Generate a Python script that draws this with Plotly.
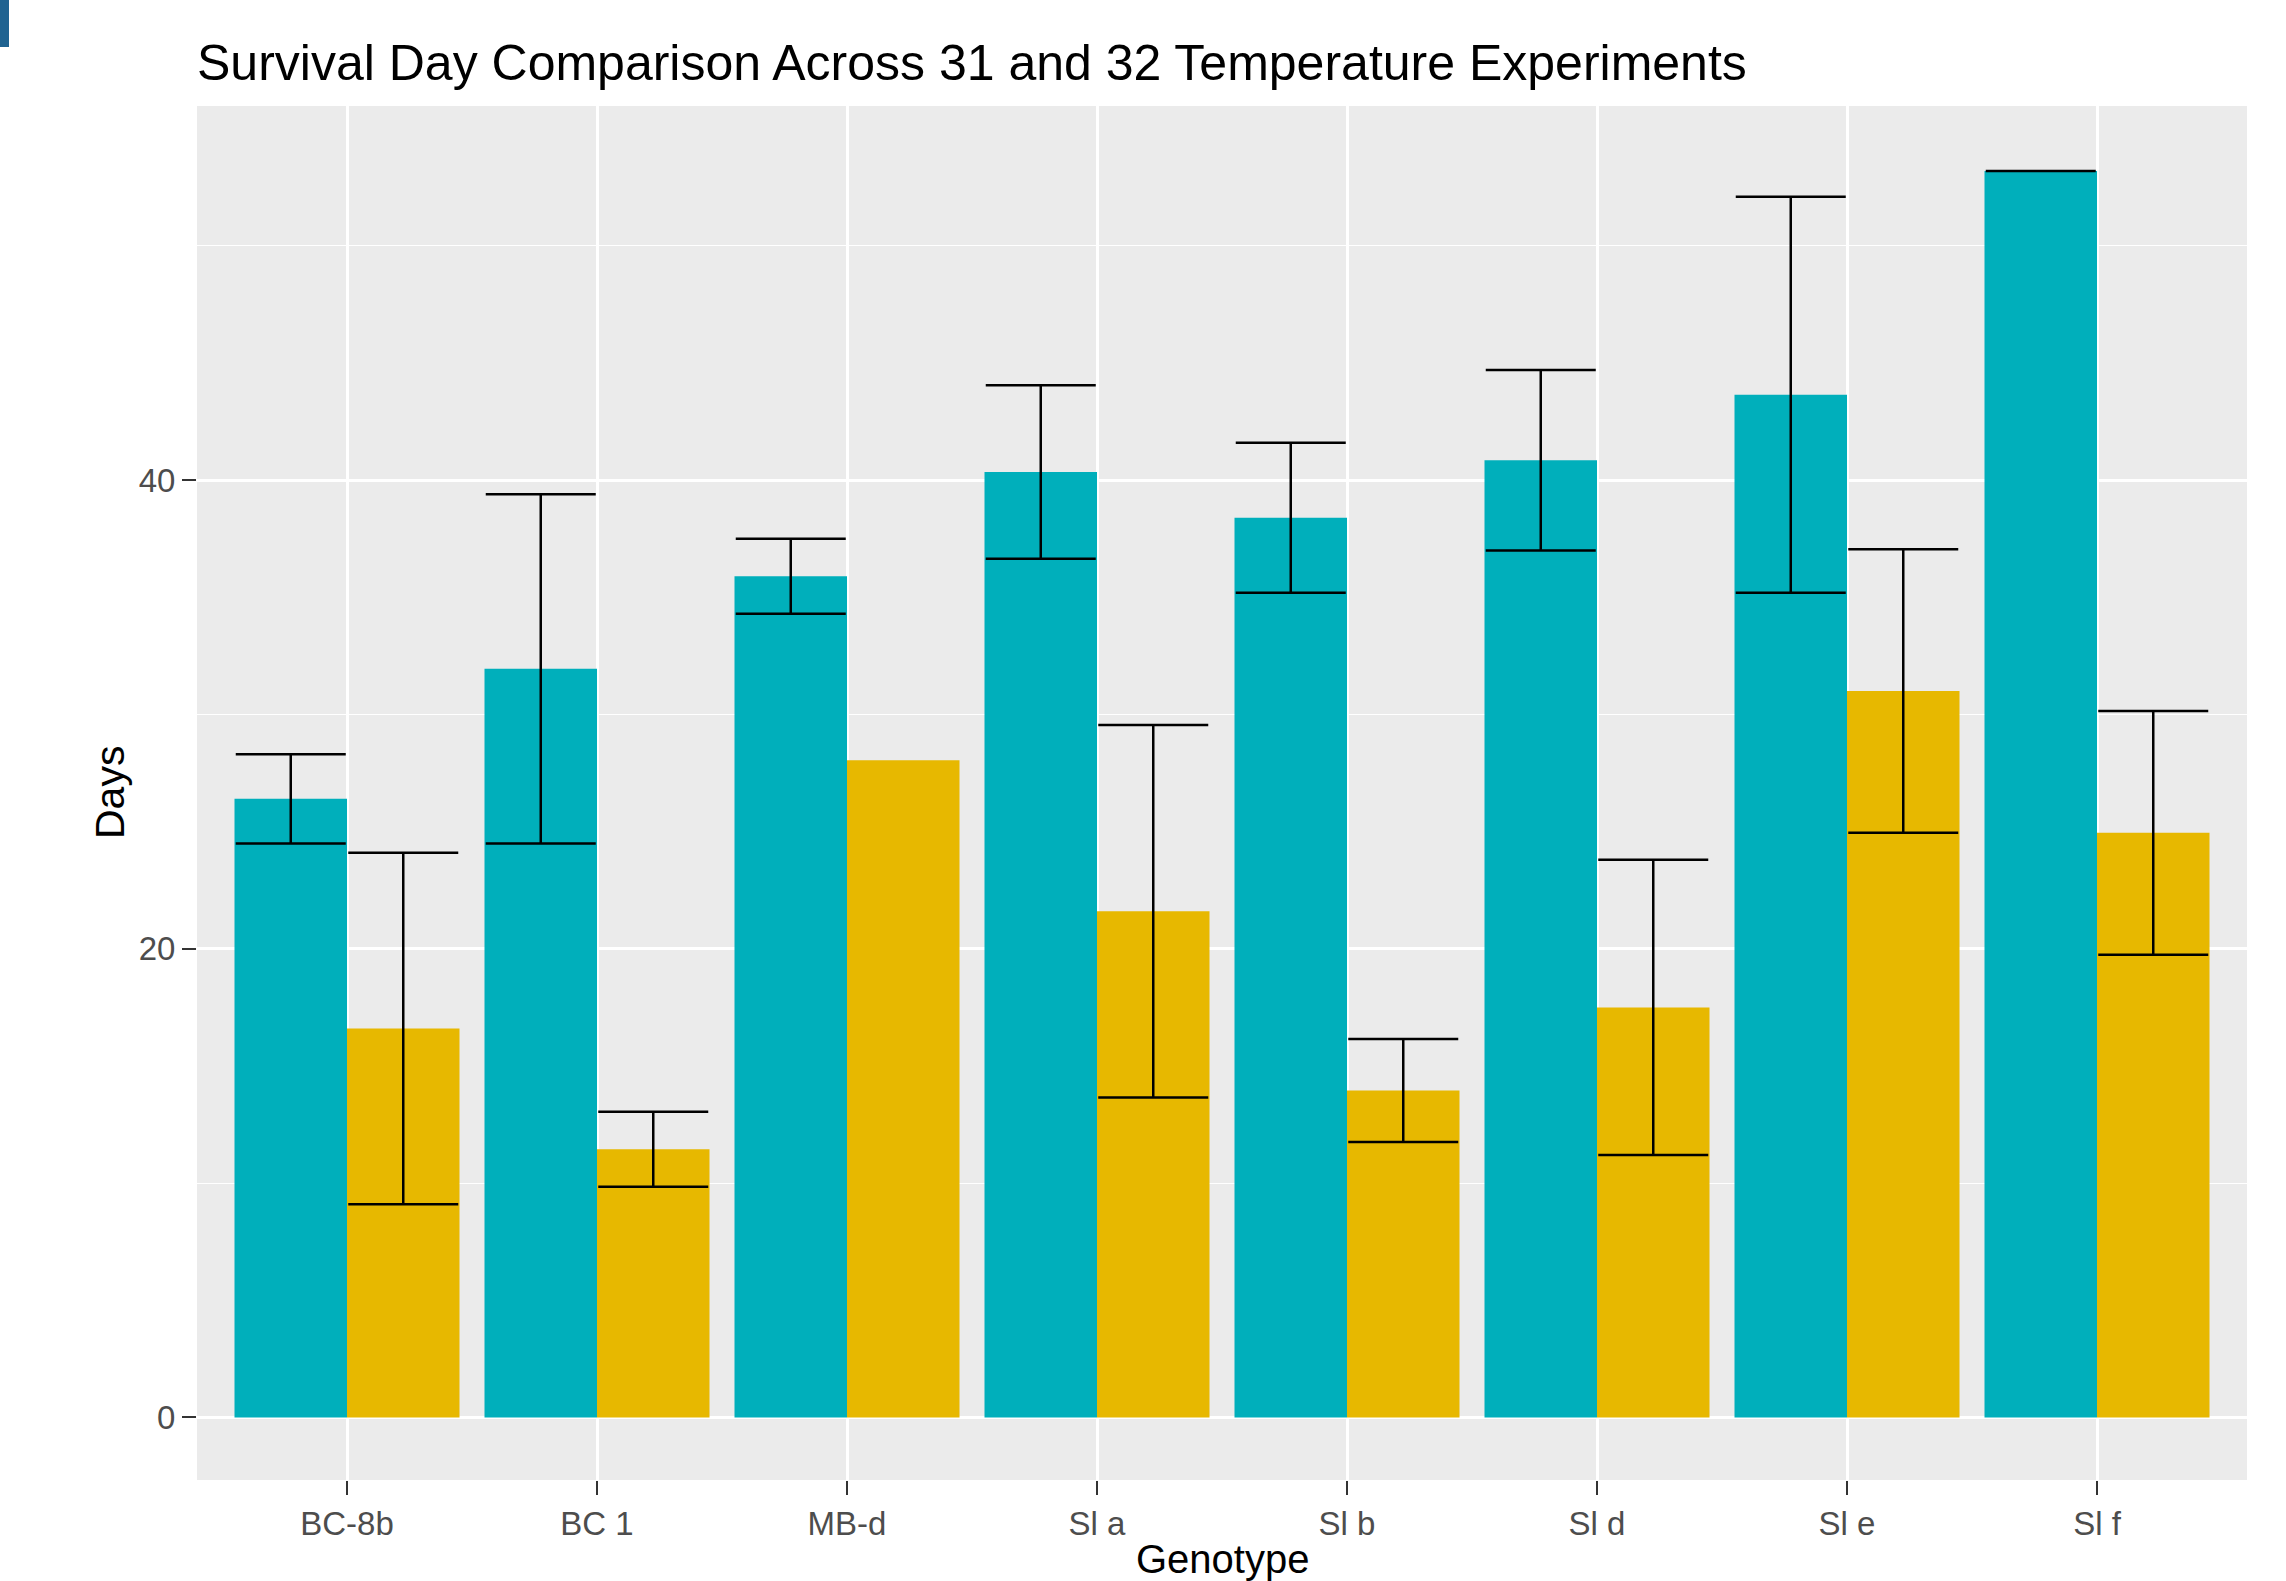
import plotly.graph_objects as go

genotypes = ["BC-8b", "BC 1", "MB-d", "Sl a", "Sl b", "Sl d", "Sl e", "Sl f"]
days_31 = [26.4, 31.95, 35.9, 40.35, 38.4, 40.85, 43.65, 53.2]
err_31 = [1.9, 7.45, 1.6, 3.7, 3.2, 3.85, 8.45, 0.0]
days_32 = [16.6, 11.45, 28.05, 21.6, 13.95, 17.5, 31.0, 24.95]
err_32 = [7.5, 1.6, None, 7.95, 2.2, 6.3, 6.05, 5.2]

TEAL = "#00AFBB"
GOLD = "#E7B800"
FONT = "Liberation Sans, Arial, sans-serif"

W, H = 2286, 1581
ML, MR, MT, MB = 197, 39, 106, 101
PW, PH = W - ML - MR, H - MT - MB


def err_array(vals):
    # missing error -> non-numeric so plotly.js skips the bar entirely
    return ["NaN" if v is None else v for v in vals]


fig = go.Figure()
fig.add_trace(go.Bar(
    x=genotypes, y=days_31, name="31", marker=dict(color=TEAL, line=dict(width=0)),
    error_y=dict(type="data", array=err_array(err_31), visible=True, color="black", thickness=2.5, width=55),
    showlegend=False,
))
fig.add_trace(go.Bar(
    x=genotypes, y=days_32, name="32", marker=dict(color=GOLD, line=dict(width=0)),
    error_y=dict(type="data", array=err_array(err_32), visible=True, color="black", thickness=2.5, width=55),
    showlegend=False,
))

fig.update_layout(
    width=W, height=H,
    margin=dict(l=ML, r=MR, t=MT, b=MB, autoexpand=False),
    paper_bgcolor="white",
    plot_bgcolor="#EBEBEB",
    barmode="group", bargap=0.1, bargroupgap=0,
    font=dict(family=FONT, color="black"),
    title=dict(
        text="Survival Day Comparison Across 31 and 32 Temperature Experiments",
        x=0, xref="paper", xanchor="left",
        y=1 - 62 / H, yref="container", yanchor="middle",
        font=dict(size=50, color="black", family=FONT),
    ),
    xaxis=dict(
        type="category", range=[-0.6, 7.6], automargin=False,
        showgrid=True, gridcolor="white", gridwidth=2.5,
        ticks="outside", ticklen=14, tickwidth=2, tickcolor="#333333",
        tickfont=dict(size=33, color="#4D4D4D"),
        showline=False, zeroline=False,
    ),
    yaxis=dict(
        range=[-2.67, 55.97], automargin=False,
        tickvals=[0, 20, 40],
        showgrid=True, gridcolor="white", gridwidth=2.5,
        minor=dict(tickvals=[10, 30, 50], showgrid=True, gridcolor="white", gridwidth=1.3),
        ticks="outside", ticklen=14, tickwidth=2, tickcolor="#333333",
        tickfont=dict(size=33, color="#4D4D4D"),
        showline=False, zeroline=False,
    ),
)

# axis titles
fig.add_annotation(
    text="Genotype", xref="paper", yref="paper", x=0.5, y=-(1559 - (H - MB)) / PH,
    xanchor="center", yanchor="middle", showarrow=False,
    font=dict(size=40, color="black", family=FONT),
)
fig.add_annotation(
    text="Days", xref="paper", yref="paper", x=(110 - ML) / PW, y=0.5,
    xanchor="center", yanchor="middle", textangle=-90, showarrow=False,
    font=dict(size=41, color="black", family=FONT),
)

fig.add_shape(
    type="rect", xref="paper", yref="paper",
    x0=-ML / PW, x1=(9 - ML) / PW,
    y0=1 + (MT - 47) / PH, y1=1 + MT / PH,
    fillcolor="#1F6391", line=dict(width=0), layer="above",
)

fig.write_html(
    "out.html",
    config={"displayModeBar": False},
    post_script="document.body.style.margin='0';",
)
